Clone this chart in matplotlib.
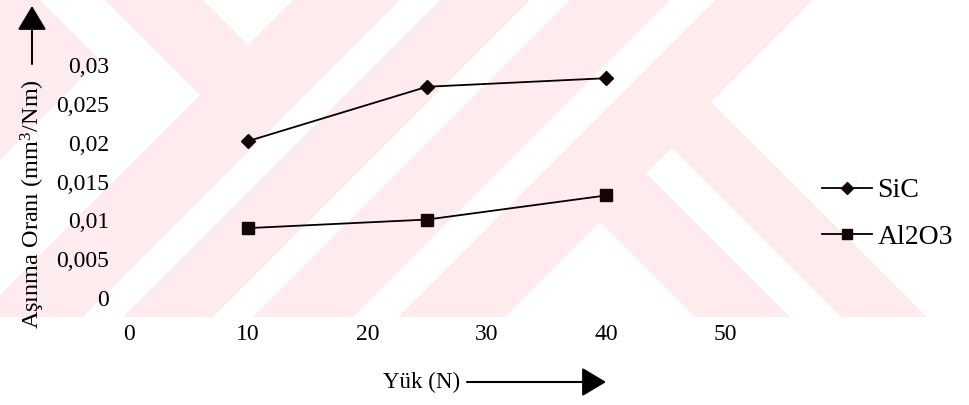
import matplotlib
matplotlib.use("Agg")
import matplotlib.pyplot as plt
from matplotlib.patches import Polygon, Rectangle, FancyArrowPatch

# Wear rate versus applied load for the two reinforcements
loads = [10, 25, 40]
sic_rate = [0.0202, 0.0272, 0.0283]
al2o3_rate = [0.0090, 0.0101, 0.0132]
series_names = ["SiC", "Al2O3"]

x_ticks = [0, 10, 20, 30, 40, 50]
x_tick_labels = ["0", "10", "20", "30", "40", "50"]
y_ticks = [0, 0.005, 0.01, 0.015, 0.02, 0.025, 0.03]
y_tick_labels = ["0", "0,005", "0,01", "0,015", "0,02", "0,025", "0,03"]

x_label = "Yük (N)"
y_label = r"Aşınma Oranı (mm$^{\mathrm{3}}$/Nm)"

plt.rcParams["font.family"] = ["Liberation Serif", "DejaVu Serif"]
plt.rcParams["mathtext.fontset"] = "custom"
plt.rcParams["mathtext.rm"] = "Liberation Serif"
plt.rcParams["mathtext.it"] = "Liberation Serif:italic"

W, H = 970, 405
fig = plt.figure(figsize=(W / 100, H / 100), dpi=100)


def px(x, y):
    """Pixel position (origin top-left) to figure fraction."""
    return (x / W, 1 - y / H)


# pale background emblem behind the plot
PINK = "#fdebee"
fig.patches.append(Rectangle(px(0, 317), 1, 317 / H, transform=fig.transFigure,
                             facecolor=PINK, edgecolor="none", zorder=-2))
white_shapes = [
    [(813, 0), (970, 0), (970, 317), (927, 317), (711, 102)],
    [(203, 0), (293, 0), (248, 45)],
    [(40, 0), (105, 0), (200, 95), (0, 295), (0, 160), (100, 60)],
    [(400, 0), (440, 0), (123, 317), (83, 317)],
    [(530, 0), (570, 0), (253, 317), (213, 317)],
    [(670, 0), (715, 0), (398, 317), (353, 317)],
    [(600, 222), (695, 317), (505, 317)],
    [(672, 148), (841, 317), (790, 317), (646, 173)],
]
for pts in white_shapes:
    fig.patches.append(Polygon([px(*p) for p in pts], closed=True,
                               transform=fig.transFigure, facecolor="white",
                               edgecolor="none", zorder=-1))

ax = fig.add_axes([128.7 / W, 1 - 298 / H, (725.3 - 128.7) / W, (298 - 65) / H])
ax.set_facecolor("none")
mark = "#150606"
ax.plot(loads, sic_rate, color="black", lw=1.3, marker="D", ms=6.8,
        mfc=mark, mec=mark, label=series_names[0], clip_on=False)
ax.plot(loads, al2o3_rate, color="black", lw=1.3, marker="s", ms=8,
        mfc=mark, mec=mark, label=series_names[1], clip_on=False)

ax.set_xlim(0, 50)
ax.set_ylim(0, 0.03)
ax.set_xticks(x_ticks)
ax.set_xticklabels(x_tick_labels)
ax.set_yticks(y_ticks)
ax.set_yticklabels(y_tick_labels)
ax.tick_params(axis="both", length=0, labelsize=17, colors="black")
ax.tick_params(axis="x", pad=19)
ax.tick_params(axis="y", pad=14)
for s in ax.spines.values():
    s.set_visible(False)

ax.legend(loc="upper left", bbox_to_anchor=px(822, 178), bbox_transform=fig.transFigure,
          frameon=False, fontsize=20, handlelength=1.8, handletextpad=0.2,
          labelspacing=0.75, borderpad=0, borderaxespad=0, numpoints=1,
          markerscale=0.85)

# axis titles with direction arrows
fig.text(33 / W, 1 - 204 / H, y_label, rotation=90, ha="center", va="center",
         fontsize=17.5)
fig.add_artist(FancyArrowPatch(px(32, 64), px(32, 6), transform=fig.transFigure,
                               arrowstyle="-|>,head_length=1.0,head_width=0.6",
                               mutation_scale=15, color="black", lw=1.5,
                               shrinkA=0, shrinkB=0))
fig.text(383 / W, 1 - 382 / H, x_label, ha="left", va="center", fontsize=16.5)
fig.add_artist(FancyArrowPatch(px(467, 382), px(606, 382), transform=fig.transFigure,
                               arrowstyle="-|>,head_length=1.0,head_width=0.6",
                               mutation_scale=15, color="black", lw=1.5,
                               shrinkA=0, shrinkB=0))

fig.savefig("out.png", dpi=100)
